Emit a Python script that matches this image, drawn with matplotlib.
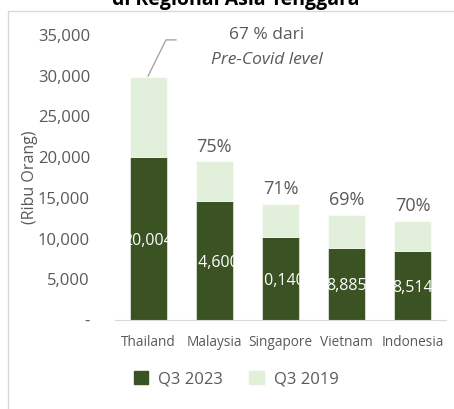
import numpy as np
import matplotlib.pyplot as plt
from matplotlib.patches import Rectangle

countries = ["Thailand", "Malaysia", "Singapore", "Vietnam", "Indonesia"]
q3_2023 = [20004, 14600, 10140, 8885, 8514]
q3_2019 = [29860, 19470, 14280, 12880, 12160]
pct_labels = ["67 %", "75%", "71%", "69%", "70%"]
yticks = [0, 5000, 10000, 15000, 20000, 25000, 30000, 35000]
ytick_labels = ["-", "5,000", "10,000", "15,000", "20,000", "25,000", "30,000", "35,000"]

DARK = "#3B5323"
LIGHT = "#E2EFDA"
GREY = "#595959"

plt.rcParams['font.family'] = ['Open Sans', 'DejaVu Sans']

fig = plt.figure(figsize=(4.54, 4.09), dpi=100)
fig.patches.append(Rectangle((8 / 454, -0.1), 1.2, 1 - 11 / 409 + 0.1, transform=fig.transFigure,
                             fill=False, edgecolor="#D9D9D9", linewidth=1.0))
fig.text(236 / 454, 1 - 5 / 409, "di Regional Asia Tenggara", ha="center", va="baseline",
         fontsize=14, fontweight="bold", color="black")

ax = fig.add_axes([115 / 454, 1 - 320 / 409, 331 / 454, 285 / 409])
x = np.arange(len(countries))
w = 0.56
diff = [b - a for a, b in zip(q3_2023, q3_2019)]
bars = ax.bar(x, q3_2023, width=w, color=DARK, edgecolor="white", linewidth=0.4)
ax.bar(x, diff, bottom=q3_2023, width=w, color=LIGHT, edgecolor="white", linewidth=0.4)

for i, (b, v) in enumerate(zip(bars, q3_2023)):
    t = ax.text(x[i], v / 2 - 300, f"{v:,}", ha="center", va="center", color="white", fontsize=11.5)
    t.set_clip_path(b)

for i in range(1, len(countries)):
    ax.text(x[i], q3_2019[i] + 700, pct_labels[i], ha="center", va="bottom", color=GREY, fontsize=13)

# callout for Thailand
ax.plot([x[0], x[0] + 0.27, x[0] + 0.42], [q3_2019[0] + 100, 34400, 34400],
        color="#A6A6A6", linewidth=1.0, clip_on=False)
ax.text(1.79, 35000, pct_labels[0] + " dari", ha="center", va="center", color=GREY, fontsize=12.5)
ax.text(1.8, 31900, "Pre-Covid level", ha="center", va="center", color=GREY, fontsize=12.5, style="italic")

ax.set_xlim(-0.5, 4.5)
ax.set_ylim(0, 35000)
ax.set_yticks(yticks)
ax.set_yticklabels(ytick_labels)
ax.set_xticks(x)
ax.set_xticklabels(countries)
ax.tick_params(axis="y", length=0, pad=18, labelsize=12, labelcolor=GREY)
ax.tick_params(axis="x", length=0, pad=11, labelsize=9.8, labelcolor=GREY)
for s in ["top", "right", "left"]:
    ax.spines[s].set_visible(False)
ax.spines["bottom"].set_color("#D9D9D9")
ax.set_ylabel("(Ribu Orang)", color=GREY, fontsize=11.5)
ax.yaxis.set_label_coords(-0.232, 0.5)

h1 = Rectangle((0, 0), 1, 1, color=DARK)
h2 = Rectangle((0, 0), 1, 1, color=LIGHT)
fig.legend([h1, h2], ["Q3 2023", "Q3 2019"], loc="center", bbox_to_anchor=(236 / 454, 1 - 379 / 409),
           ncol=2, frameon=False, fontsize=12, labelcolor=GREY, handlelength=0.85, handleheight=0.85,
           columnspacing=1.6, handletextpad=0.6)

fig.savefig("out.png", dpi=100)
